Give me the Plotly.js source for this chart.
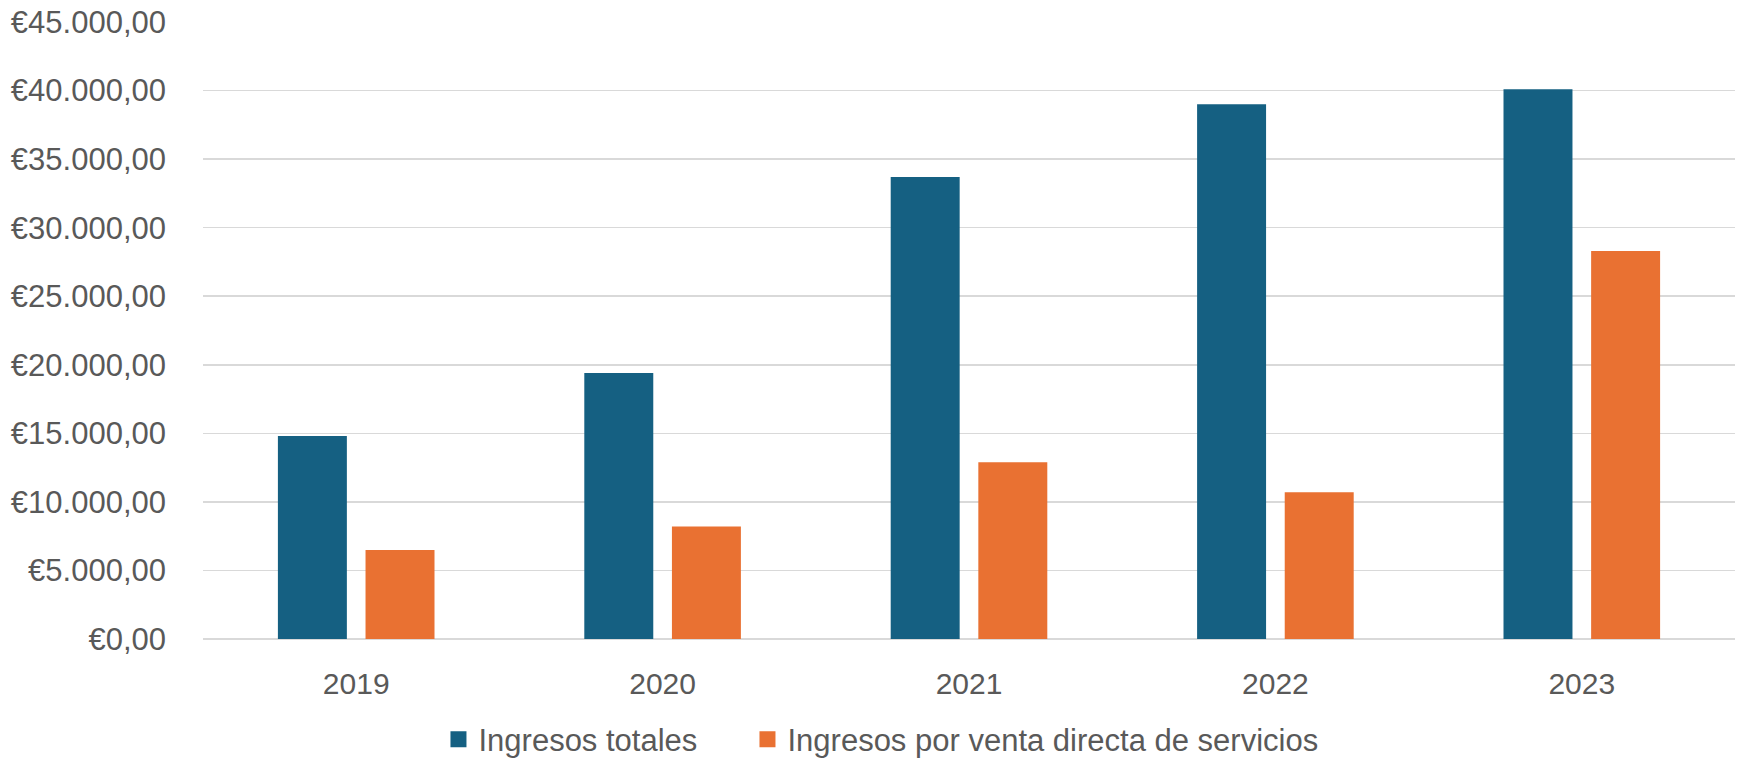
<!DOCTYPE html>
<html>
<head>
<meta charset="utf-8">
<script src="https://cdn.plot.ly/plotly-3.0.1.min.js"></script>
<style>html,body{margin:0;padding:0;background:#fff;}#chart{width:1742px;height:773px;}</style>
</head>
<body>
<div id="chart"></div>
<script>
const years = ['2019', '2020', '2021', '2022', '2023'];
const seriesNames = ['Ingresos totales', 'Ingresos por venta directa de servicios'];
const ingresosTotales = [14800, 19400, 33700, 39000, 40100];
const ingresosVentaDirecta = [6500, 8200, 12900, 10700, 28300];
const colors = ['#156082', '#E97132'];
const seriesValues = [ingresosTotales, ingresosVentaDirecta];
const legendIds = ['legend', 'legend2'];

const traces = [];
seriesValues.forEach((vals, i) => {
  traces.push({type: 'bar', x: years, y: vals, name: seriesNames[i], legendgroup: 'g' + i,
               showlegend: false, marker: {color: colors[i]}});
});
// legend-only entries with larger square swatches
seriesValues.forEach((vals, i) => {
  traces.push({type: 'scatter', mode: 'markers', x: [years[0]], y: [null], name: seriesNames[i],
               legendgroup: 'g' + i, showlegend: true, hoverinfo: 'skip', legend: legendIds[i],
               marker: {symbol: 'square', size: 17, color: colors[i]}});
});

const font = 'Liberation Sans, Arial, sans-serif';
const legendStyle = (x) => ({orientation: 'h', x: x, xanchor: 'left', y: -0.163, yanchor: 'middle',
  font: {family: font, size: 31, color: '#595959'}, itemsizing: 'trace', bgcolor: 'rgba(0,0,0,0)'});

const layout = {
  width: 1742, height: 773,
  margin: {l: 203, r: 7, t: 22, b: 119},
  paper_bgcolor: '#ffffff', plot_bgcolor: '#ffffff',
  separators: ',.',
  barmode: 'group', bargap: 0.428, bargroupgap: 0.213,
  showlegend: true,
  legend: legendStyle(0.1537),
  legend2: legendStyle(0.3554),
  xaxis: {type: 'category', showgrid: false, zeroline: false, showline: false,
          ticks: '', ticklabelstandoff: 24,
          tickfont: {family: font, size: 30, color: '#595959'}},
  yaxis: {range: [0, 45000], dtick: 5000, tick0: 0, tickprefix: '€', tickformat: ',.2f',
          showgrid: true, gridcolor: '#D9D9D9', gridwidth: 1.5,
          zeroline: true, zerolinecolor: '#D9D9D9', zerolinewidth: 1.5,
          showline: false, ticks: '', ticklabelstandoff: 36,
          tickfont: {family: font, size: 31, color: '#595959'}}
};

Plotly.newPlot('chart', traces, layout, {displayModeBar: false, staticPlot: true});
</script>
</body>
</html>
